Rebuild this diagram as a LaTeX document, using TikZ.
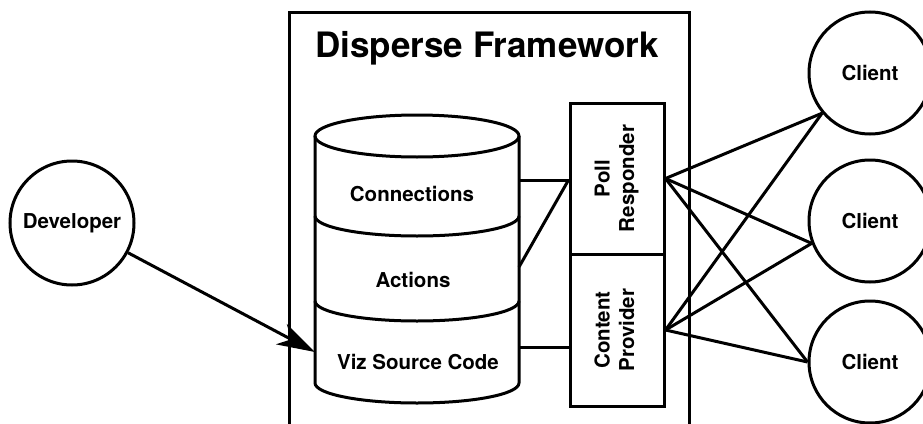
\documentclass[tikz,border=0pt]{standalone}
\usepackage{fontspec}
\setmainfont{TeX Gyre Heros}
\usepackage{graphicx}
\usetikzlibrary{arrows.meta}
\begin{document}
\begin{tikzpicture}[x=1pt,y=-1pt,line width=3pt,
  lbl/.style={font=\bfseries\fontsize{20.5}{24.5}\selectfont,inner sep=0pt},
  titlelbl/.style={font=\bfseries\fontsize{35}{40}\selectfont,inner sep=0pt},
  circnode/.style={circle,draw,inner sep=0pt,lbl},
  clientnode/.style={circnode,minimum size=122pt},
  devnode/.style={circnode,minimum size=124pt},
  svcbox/.style={draw,inner sep=0pt,minimum width=94pt,lbl},
  link/.style={line width=3pt},
  devarrow/.style={-{Stealth[length=38pt,width=23pt,inset=11pt]}}
]
\useasboundingbox (0,0) rectangle (923,423);
\clip (0,0) rectangle (923,423);

% framework box (open at the bottom edge of the picture)
\draw (289,440) -- (289,12) -- (689,12) -- (689,440);
\node[titlelbl,anchor=base] (title) at (487,57) {Disperse Framework};

% cylinder
\draw (417,136) ellipse[x radius=102pt,y radius=21pt];
\draw (315,136) -- (315,383) arc[start angle=180,end angle=360,x radius=102pt,y radius=20pt] -- (519,136);
\draw (315,216) arc[start angle=180,end angle=360,x radius=102pt,y radius=20pt];
\draw (315,301) arc[start angle=180,end angle=360,x radius=102pt,y radius=20pt];
\node[lbl,anchor=base] (conn) at (412,201) {Connections};
\node[lbl,anchor=base] (act) at (413,287) {Actions};
\node[lbl,anchor=base] (viz) at (418,369) {Viz Source Code};
\coordinate (cylConnR) at (519,180);
\coordinate (cylActR) at (519,267);
\coordinate (cylVizR) at (519,347);
\coordinate (cylVizL) at (315,352);

% service boxes
\node[svcbox,minimum height=151pt] (poll) at (617,178.5)
  {\rotatebox{90}{\begin{tabular}{@{}c@{}}Poll\\Responder\end{tabular}}};
\node[svcbox,minimum height=152pt] (cont) at (617,330)
  {\rotatebox{90}{\begin{tabular}{@{}c@{}}Content\\Provider\end{tabular}}};

% developer and clients
\node[devnode] (dev) at (72,223) {Developer};
\node[clientnode] (c1) at (870,73) {Client};
\node[clientnode] (c2) at (870,221) {Client};
\node[clientnode] (c3) at (870,362) {Client};

% connectors
\draw[devarrow] (dev) -- (cylVizL);
\draw[link] (cylConnR) -- (cylConnR -| poll.west);
\draw[link] (cylActR) -- (cylConnR -| poll.west);
\draw[link] (cylVizR) -- (cylVizR -| cont.west);
\foreach \s in {poll,cont}{
  \draw[link] (\s.east) -- (c1.220);
  \draw[link] (\s.east) -- (c2.201);
  \draw[link] (\s.east) -- (c3.180);
}
\end{tikzpicture}
\end{document}
